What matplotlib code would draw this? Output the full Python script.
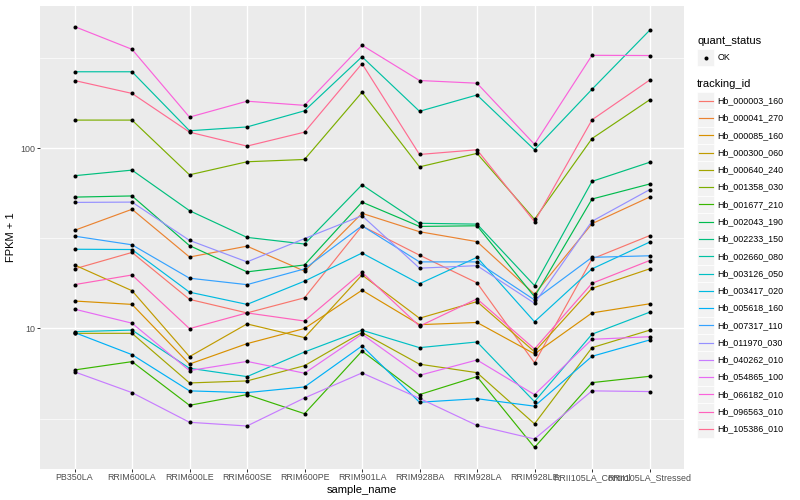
import numpy as np
import matplotlib
matplotlib.use("Agg")
import matplotlib.pyplot as plt
from matplotlib.patches import Rectangle
from matplotlib.lines import Line2D

plt.rcParams['font.family'] = ['Liberation Sans', 'DejaVu Sans']

samples = ["PB350LA", "RRIM600LA", "RRIM600LE", "RRIM600SE", "RRIM600PE",
           "RRIM901LA", "RRIM928BA", "RRIM928LA", "RRIM928LE",
           "RRII105LA_Control", "RRII105LA_Stressed"]

tracking_ids = ["Hb_000003_160", "Hb_000041_270", "Hb_000085_160", "Hb_000300_060",
                "Hb_000640_240", "Hb_001358_030", "Hb_001677_210", "Hb_002043_190",
                "Hb_002233_150", "Hb_002660_080", "Hb_003126_050", "Hb_003417_020",
                "Hb_005618_160", "Hb_007317_110", "Hb_011970_030", "Hb_040262_010",
                "Hb_054865_100", "Hb_066182_010", "Hb_096563_010", "Hb_105386_010"]

# FPKM + 1 values per gene, in sample order
hb_000003_160 = [21.4, 26.4, 14.5, 12.2, 14.8, 37.0, 25.5, 17.9, 6.45, 24.3, 32.7]
hb_000041_270 = [35.0, 45.8, 24.9, 28.6, 20.8, 43.5, 34.4, 30.3, 15.5, 38.1, 53.5]
hb_000085_160 = [14.2, 13.6, 6.35, 8.24, 10.0, 16.3, 10.5, 10.8, 7.23, 12.2, 13.7]
hb_000300_060 = [22.5, 16.2, 6.98, 10.6, 8.9, 19.8, 11.4, 14.1, 7.43, 16.7, 21.4]
hb_000640_240 = [9.4, 9.4, 4.99, 5.12, 6.22, 9.5, 6.34, 5.69, 2.96, 7.83, 9.78]
hb_001358_030 = [143, 143, 71.1, 84.0, 86.5, 204, 78.7, 93.5, 40.3, 113, 185]
hb_001677_210 = [5.89, 6.55, 3.75, 4.3, 3.37, 7.5, 4.3, 5.41, 2.19, 5.01, 5.43]
hb_002043_190 = [53.5, 54.3, 28.8, 20.6, 22.5, 50.2, 36.8, 37.1, 15.0, 52.2, 63.2]
hb_002233_150 = [70.3, 75.5, 45.0, 32.0, 29.4, 62.6, 38.3, 37.9, 17.3, 65.4, 83.4]
hb_002660_080 = [265, 265, 124.8, 131, 161, 321, 160, 197, 97.9, 212, 449]
hb_003126_050 = [9.6, 9.8, 6.02, 5.41, 7.41, 9.78, 7.83, 8.42, 3.93, 9.3, 12.3]
hb_003417_020 = [27.5, 27.4, 15.9, 13.6, 18.3, 26.2, 17.7, 24.8, 10.9, 21.4, 30.1]
hb_005618_160 = [9.5, 7.16, 4.51, 4.41, 4.74, 8.0, 3.9, 4.08, 3.71, 7.01, 8.63]
hb_007317_110 = [32.5, 29.1, 19.0, 17.5, 21.4, 37.1, 23.4, 23.4, 14.4, 24.8, 25.3]
hb_011970_030 = [50.0, 50.2, 30.8, 23.4, 31.5, 42.2, 21.6, 22.3, 13.8, 39.3, 58.8]
hb_040262_010 = [5.75, 4.41, 3.02, 2.88, 4.12, 5.67, 4.1, 2.9, 2.44, 4.51, 4.47]
hb_054865_100 = [12.8, 10.7, 5.84, 6.57, 5.65, 9.3, 5.5, 6.69, 4.3, 8.71, 9.0]
hb_066182_010 = [472, 353, 148.5, 182, 172.6, 372, 237, 229, 105, 327, 326]
hb_096563_010 = [17.5, 19.8, 9.98, 12.2, 11.0, 20.5, 10.3, 14.6, 7.7, 17.8, 23.8]
hb_105386_010 = [237, 201, 122.6, 102.6, 122.6, 294, 92.2, 97.9, 39.1, 143.5, 238]

series = [hb_000003_160, hb_000041_270, hb_000085_160, hb_000300_060, hb_000640_240,
          hb_001358_030, hb_001677_210, hb_002043_190, hb_002233_150, hb_002660_080,
          hb_003126_050, hb_003417_020, hb_005618_160, hb_007317_110, hb_011970_030,
          hb_040262_010, hb_054865_100, hb_066182_010, hb_096563_010, hb_105386_010]

colors = ["#F8766D", "#EA8331", "#D89000", "#C09B00", "#A3A500", "#7CAE00", "#39B600",
          "#00BB4E", "#00BF7D", "#00C1A3", "#00BFC4", "#00BAE0", "#00B0F6", "#35A2FF",
          "#9590FF", "#C77CFF", "#E76BF3", "#FA62DB", "#FF62BC", "#FF6C91"]

W, H = 800, 500
fig = plt.figure(figsize=(8, 5), dpi=100)
L, R, T, B = 40, 684, 5.5, 468.5
ax = fig.add_axes([L / W, 1 - B / H, (R - L) / W, (B - T) / H])
ax.set_facecolor('#EBEBEB')

x = np.arange(1, len(samples) + 1)
for vals, c in zip(series, colors):
    ax.plot(x, vals, color=c, lw=0.85, zorder=3, solid_capstyle='butt')
for vals in series:
    ax.plot(x, vals, 'o', color='black', ms=2.9, mew=0, zorder=4)

ax.set_yscale('log')
allv = np.log10(np.concatenate([np.array(s, float) for s in series]))
lo, hi = allv.min(), allv.max()
pad = 0.05 * (hi - lo)
ax.set_ylim(10 ** (lo - pad), 10 ** (hi + pad))
ax.set_xlim(0.4, len(samples) + 0.6)

ax.set_yticks([10, 100])
ax.set_yticklabels(["10", "100"])
ax.set_yticks([10 ** 0.5, 10 ** 1.5, 10 ** 2.5], minor=True)
ax.yaxis.set_minor_formatter(matplotlib.ticker.NullFormatter())
ax.set_xticks(x)
ax.set_xticklabels(samples)

ax.grid(True, which='major', color='white', lw=1.0, zorder=1)
ax.grid(True, which='minor', axis='y', color='white', lw=0.5, zorder=1)
ax.set_axisbelow(True)
for s in ax.spines.values():
    s.set_visible(False)
ax.tick_params(axis='both', which='major', length=2.0, width=0.7, color='#333333',
               labelsize=6.4, labelcolor='#4D4D4D', pad=1.6)
ax.tick_params(axis='y', which='minor', length=0)

ax.set_xlabel('sample_name', fontsize=8, color='black', labelpad=2)
ax.set_ylabel('FPKM + 1', fontsize=8, color='black', labelpad=3)

# legend overlay in pixel coordinates
lax = fig.add_axes([0, 0, 1, 1], zorder=10)
lax.set_xlim(0, W)
lax.set_ylim(H, 0)
lax.axis('off')
lax.patch.set_alpha(0)

lx = 697
lax.text(lx, 41, 'quant_status', fontsize=8, va='center', ha='left')
lax.add_patch(Rectangle((lx, 49), 17, 17, facecolor='#F2F2F2', edgecolor='white', lw=0.5))
lax.plot([lx + 8.5], [57.5], 'o', color='black', ms=2.9, mew=0)
lax.text(lx + 21, 57.5, 'OK', fontsize=6.4, va='center', ha='left')

lax.text(lx, 84, 'tracking_id', fontsize=8, va='center', ha='left')
y0, step = 100.7, 17.28
for i, (tid, c) in enumerate(zip(tracking_ids, colors)):
    yc = y0 + i * step
    lax.add_patch(Rectangle((lx, yc - step / 2), 17, step, facecolor='#F2F2F2',
                            edgecolor='white', lw=0.5))
    lax.plot([lx + 1.5, lx + 15.5], [yc, yc], color=c, lw=0.85)
    lax.text(lx + 20, yc, tid, fontsize=6.4, va='center', ha='left')

fig.savefig('out.png', dpi=100)
